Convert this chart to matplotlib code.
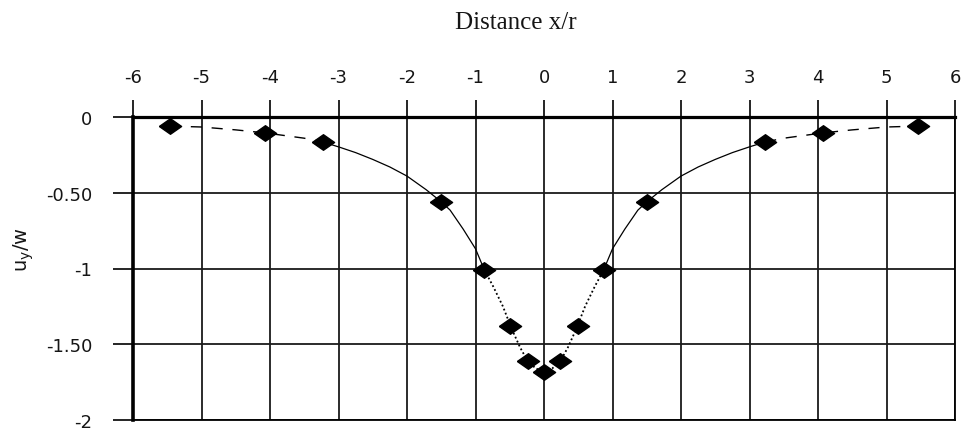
import numpy as np
import matplotlib
matplotlib.use("Agg")
import matplotlib.pyplot as plt

# measured displacement points
pts_x = [-5.46, -4.07, -3.23, -1.5, -0.87, -0.5, -0.24, 0.0,
         0.24, 0.5, 0.87, 1.5, 3.23, 4.07, 5.46]
pts_y = [-0.06, -0.105, -0.165, -0.56, -1.01, -1.38, -1.61, -1.68,
         -1.61, -1.38, -1.01, -0.56, -0.165, -0.105, -0.06]

# fitted curve, left half (the right half is its mirror image)
far_x = [-5.46, -5.0, -4.5, -4.07, -3.5, -3.23]
far_y = [-0.06, -0.066, -0.085, -0.105, -0.14, -0.165]
mid_x = [-3.23, -3.0, -2.75, -2.5, -2.25, -2.0, -1.72, -1.5, -1.37,
         -1.18, -1.0, -0.87]
mid_y = [-0.165, -0.197, -0.235, -0.28, -0.33, -0.39, -0.48, -0.56,
         -0.615, -0.74, -0.87, -1.01]
near_x = [-0.87, -0.74, -0.6, -0.47, -0.35, -0.24, -0.12, 0.0]
near_y = [-1.01, -1.12, -1.25, -1.4, -1.52, -1.61, -1.66, -1.68]

xticks = [-6, -5, -4, -3, -2, -1, 0, 1, 2, 3, 4, 5, 6]
yticks = [0, -0.5, -1, -1.5, -2]
ytick_labels = ["0", "-0.50", "-1", "-1.50", "-2"]

W, H = 963, 431
fig = plt.figure(figsize=(W / 100, H / 100), dpi=100)
ax = fig.add_axes([133 / W, 1 - 421 / H, (955 - 133) / W, (421 - 118) / H])

def both_sides(xs, ys):
    xs = np.array(xs)
    ys = np.array(ys)
    return xs, ys, -xs[::-1], ys[::-1]

lx, ly, rx, ry = both_sides(far_x, far_y)
for cx, cy in [(lx, ly), (rx, ry)]:
    ax.plot(cx, cy, color="black", lw=1.0, ls=(0, (8, 7)), zorder=3)
lx, ly, rx, ry = both_sides(mid_x, mid_y)
for cx, cy in [(lx, ly), (rx, ry)]:
    ax.plot(cx, cy, color="black", lw=0.9, ls="-", zorder=3)
lx, ly, rx, ry = both_sides(near_x, near_y)
for cx, cy in [(lx, ly), (rx, ry)]:
    ax.plot(cx, cy, color="black", lw=1.3, ls=(0, (1, 1.4)), zorder=3)

diamond = [(-1, 0), (0, 0.7), (1, 0), (0, -0.7), (-1, 0)]
ax.plot(pts_x, pts_y, ls="none", marker=diamond, ms=16, color="black",
        zorder=4, clip_on=False)

ax.set_xlim(-6, 6)
ax.set_ylim(-2, 0)
ax.xaxis.tick_top()
ax.set_xticks(xticks)
ax.set_xticklabels([str(t) for t in xticks])
ax.set_yticks(yticks)
ax.set_yticklabels(ytick_labels)
ax.grid(True, color="#1a1a1a", lw=1.3, zorder=1)
ax.set_axisbelow(True)

for lab in ax.get_xticklabels() + ax.get_yticklabels():
    lab.set_fontfamily("DejaVu Sans")
    lab.set_fontsize(13)
    lab.set_color("#151515")
ax.tick_params(axis="x", length=12, width=1.2, pad=10, color="black")
ax.tick_params(axis="y", length=14.4, width=1.2, pad=15, color="black")

ax.spines["top"].set_linewidth(2.3)
ax.spines["left"].set_linewidth(2.6)
ax.spines["right"].set_linewidth(1.3)
ax.spines["bottom"].set_linewidth(1.3)
for sp in ax.spines.values():
    sp.set_color("black")
    sp.set_zorder(5)

fig.text(516 / W, 1 - 23 / H, "Distance x/r", ha="center", va="center",
         fontsize=18, family="Liberation Serif", color="#151515")
fig.text(24 / W, 1 - 250 / H, r"u$_\mathregular{y}$/w", rotation=90,
         ha="center", va="center", fontsize=14, family="DejaVu Sans",
         color="#151515")

fig.savefig("out.png", dpi=100, facecolor="white")
